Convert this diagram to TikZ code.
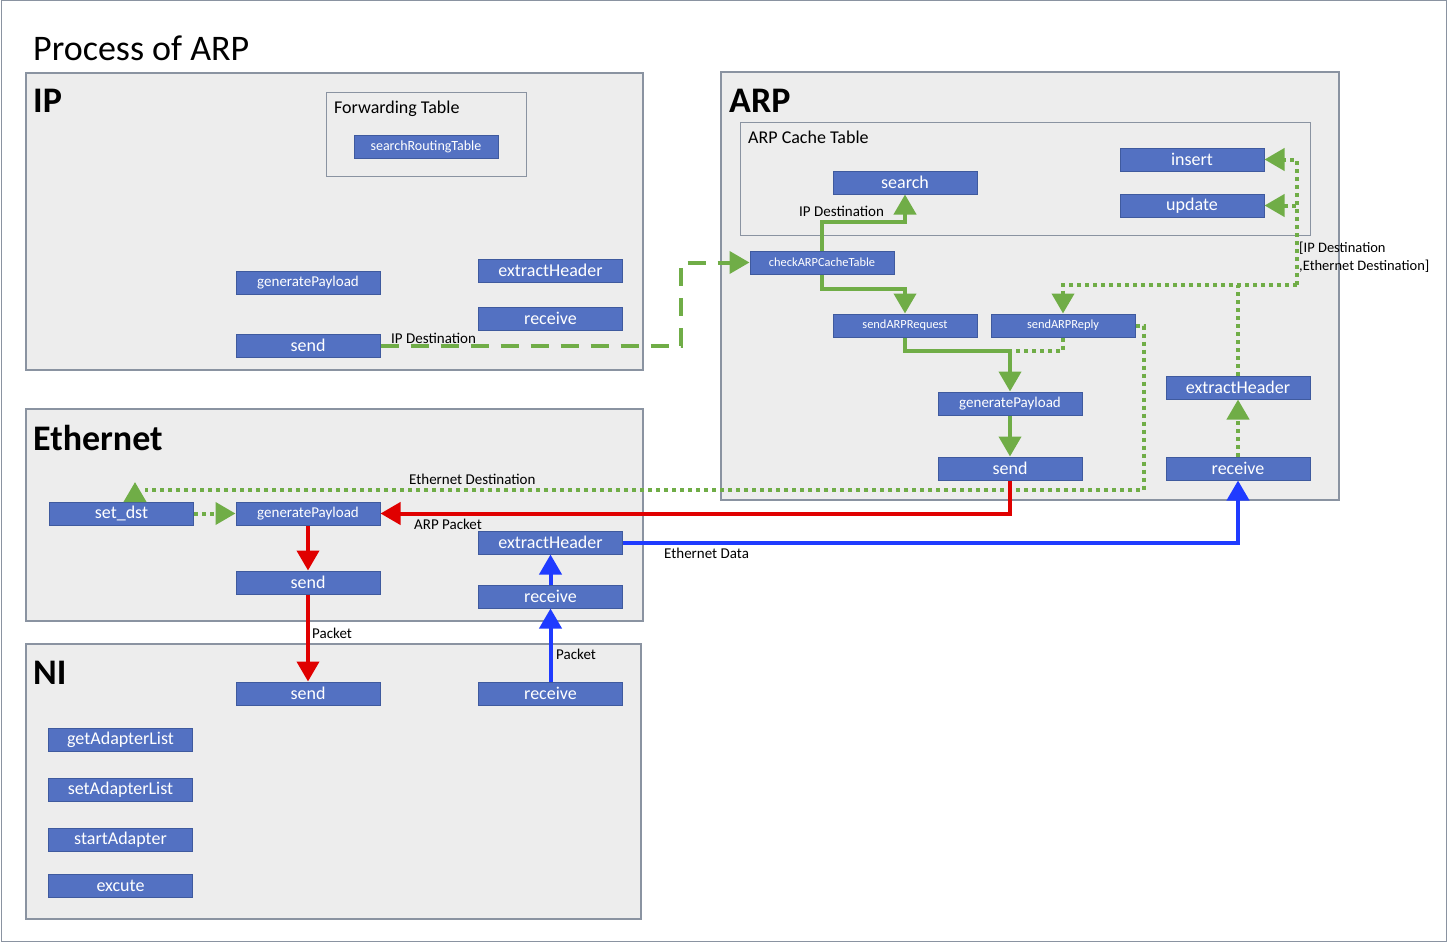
\documentclass[tikz,border=0pt]{standalone}
\usepackage{fontspec}
\setmainfont{Carlito}
\usetikzlibrary{arrows.meta}
\definecolor{grn}{HTML}{70AD47}
\definecolor{rd}{HTML}{E00000}
\definecolor{bl}{HTML}{1F3BFF}
\definecolor{bx}{HTML}{5371C2}
\definecolor{bxd}{HTML}{3F5A9E}
\definecolor{pnl}{HTML}{EDEDED}
\definecolor{pnld}{HTML}{8A93A1}
\newcommand\fsz[1]{\fontsize{#1}{#1}\selectfont}
\tikzset{
  panel/.style={draw=pnld, fill=pnl, line width=1.2pt},
  innerbox/.style={draw=pnld, line width=1pt},
  fbox/.style={draw=bxd, fill=bx, line width=1pt, text=white, minimum width=144pt, minimum height=23pt, inner sep=0pt, font=\fsz{18}},
  small/.style={font=\fsz{15}},
  tiny/.style={font=\fsz{12.4}},
  lbl/.style={font=\fsz{15}, inner sep=0pt, anchor=base west},
  ttl/.style={font=\fsz{36}\bfseries, inner sep=0pt, anchor=base west},
  arw/.style={-{Triangle[length=20pt,width=22pt]}},
  gsolid/.style={draw=grn, line width=4pt},
  gdot/.style={draw=grn, line width=4pt, dash pattern=on 4pt off 4pt},
  gdash/.style={draw=grn, line width=4pt, dash pattern=on 18pt off 12pt},
  rline/.style={draw=rd, line width=4pt},
  bline/.style={draw=bl, line width=4pt},
}
\begin{document}
\begin{tikzpicture}[x=1pt,y=-1pt]
\useasboundingbox (0,0) rectangle (1447,942);
\draw[draw=pnld, line width=1pt] (1,1) rectangle (1446,941);
\node[inner sep=0pt, anchor=base west, font=\fsz{36}] (title) at (33,60) {Process of ARP};

% panels
\draw[panel] (26,73) rectangle (643,370);
\draw[panel] (721,72) rectangle (1339,500);
\draw[panel] (26,409) rectangle (643,621);
\draw[panel] (26,644) rectangle (641,919);
\node[ttl] (tip) at (33,112) {IP};
\node[ttl] (tarp) at (729,112) {ARP};
\node[ttl] (teth) at (33,450) {Ethernet};
\node[ttl] (tni) at (33,684) {NI};

\draw[innerbox] (326,92) rectangle (526,176);
\node[lbl, font=\fsz{18}] (tfwd) at (334,113) {Forwarding Table};
\draw[innerbox] (740,122) rectangle (1310,235);
\node[lbl, font=\fsz{18}] (tcache) at (748,143) {ARP Cache Table};

% IP boxes
\node[fbox, font=\fsz{14}] (srt) at (426,146.5) {searchRoutingTable};
\node[fbox, small] (ipgen) at (308,282.5) {generatePayload};
\node[fbox] (ipext) at (550.5,270.5) {extractHeader};
\node[fbox] (iprecv) at (550.5,318.5) {receive};
\node[fbox] (ipsend) at (308,345.5) {send};

% ARP boxes
\node[fbox] (search) at (905,182.5) {search};
\node[fbox] (insert) at (1192,159.5) {insert};
\node[fbox] (update) at (1192,205.5) {update};
\node[fbox, tiny] (check) at (822,262.5) {checkARPCacheTable};
\node[fbox, tiny] (sreq) at (905,325.5) {sendARPRequest};
\node[fbox, tiny] (srep) at (1063,325.5) {sendARPReply};
\node[fbox, small] (agen) at (1010,403.5) {generatePayload};
\node[fbox] (asend) at (1010,468.5) {send};
\node[fbox] (aext) at (1238,387.5) {extractHeader};
\node[fbox] (arecv) at (1238,468.5) {receive};

% Ethernet boxes
\node[fbox] (sdst) at (121.5,513.5) {set\_dst};
\node[fbox, small] (egen) at (308,513.5) {generatePayload};
\node[fbox] (esend) at (308,582.5) {send};
\node[fbox] (eext) at (550.5,542.5) {extractHeader};
\node[fbox] (erecv) at (550.5,596.5) {receive};

% NI boxes
\node[fbox] (nsend) at (308,693.5) {send};
\node[fbox] (nrecv) at (550.5,693.5) {receive};
\node[fbox] (gal) at (120.5,739.5) {getAdapterList};
\node[fbox] (sal) at (120.5,789.5) {setAdapterList};
\node[fbox] (sta) at (120.5,839.5) {startAdapter};
\node[fbox] (exc) at (120.5,885.5) {excute};

% green connectors
\draw[gdash, arw] (ipsend.east) -- ++(300,0) |- (check.west);
\node[lbl] (l1) at (391,343) {IP Destination};
\draw[gsolid, arw] (check.north) -- ++(0,-29) -| (search.south);
\node[lbl] (l2) at (799,216) {IP Destination};
\draw[gsolid, arw] (check.south) -- ++(0,14) -| (sreq.north);
\draw[gsolid, arw] (sreq.south) -- ++(0,13) -| (agen.north);
\draw[gdot] (srep.south) -- ++(0,13) -- ++(-53,0);
\draw[gsolid, arw] (agen.south) -- (asend.north);
\draw[gdot, arw] (arecv.north) -- (aext.south);
\coordinate (j) at (1238,284.5);
\coordinate (k) at (1297,284.5);
\draw[gdot] (aext.north) -- (j);
\draw[gdot, arw] (k) -| (srep.north);
\draw[gdot, arw] (k) |- (insert.east);
\draw[gdot, arw] (k) |- (update.east);
\node[lbl, align=left, anchor=north west, font=\fontsize{14.5}{18}\selectfont] (l3) at (1299,242) {[IP Destination\\{,}Ethernet Destination]};
\coordinate (ed) at (145,490);
\draw[gdot] (srep.east) -- ++(8,0) |- (ed);
\draw[gsolid, arw] ([xshift=13.5pt]sdst.north) -- ++(0,-19.5);
\node[lbl] (l4) at (409,484) {Ethernet Destination};
\draw[gdot, arw] (sdst.east) -- (egen.west);

% red connectors
\draw[rline, arw] (asend.south) |- (egen.east);
\node[lbl] (l5) at (414,529) {ARP Packet};
\draw[rline, arw] (egen.south) -- (esend.north);
\draw[rline, arw] (esend.south) -- (nsend.north);
\node[lbl] (l6) at (312,638) {Packet};

% blue connectors
\draw[bline, arw] (nrecv.north) -- (erecv.south);
\node[lbl] (l7) at (556,659) {Packet};
\draw[bline, arw] (erecv.north) -- (eext.south);
\draw[bline, arw] (eext.east) -| (arecv.south);
\node[lbl] (l8) at (664,558) {Ethernet Data};
\end{tikzpicture}
\end{document}
